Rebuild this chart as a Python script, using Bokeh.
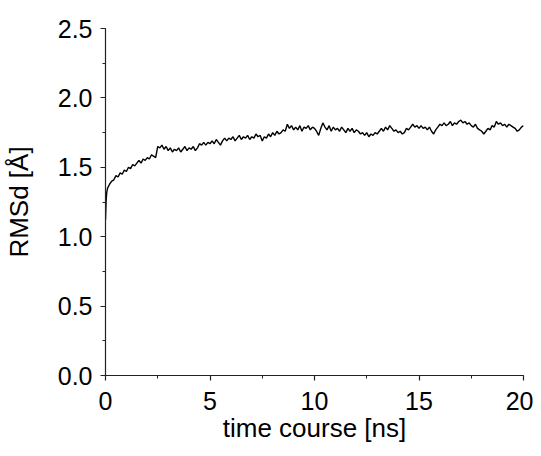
from bokeh.plotting import figure
from bokeh.models import Range1d, SingleIntervalTicker, NumeralTickFormatter
from bokeh.embed import file_html
from bokeh.resources import INLINE

# ---- data ----
time_early = [0.0, 0.03, 0.06]
rmsd_early = [1.12, 1.26, 1.32]

time_ns = [round(0.1 * i, 1) for i in range(1, 201)]
rmsd = [
    1.35, 1.38, 1.40, 1.41, 1.44, 1.43, 1.46, 1.45, 1.48, 1.47,
    1.50, 1.49, 1.52, 1.51, 1.53, 1.55, 1.53, 1.56, 1.55, 1.57,
    1.56, 1.59, 1.58, 1.57, 1.65, 1.64, 1.66, 1.63, 1.65, 1.62,
    1.64, 1.61, 1.63, 1.62, 1.64, 1.61, 1.63, 1.65, 1.62, 1.64,
    1.63, 1.65, 1.62, 1.64, 1.67, 1.66, 1.68, 1.66, 1.68, 1.67,
    1.69, 1.67, 1.70, 1.68, 1.66, 1.69, 1.71, 1.69, 1.71, 1.70,
    1.72, 1.69, 1.71, 1.73, 1.70, 1.72, 1.71, 1.73, 1.70, 1.72,
    1.71, 1.74, 1.72, 1.73, 1.69, 1.72, 1.71, 1.74, 1.72, 1.75,
    1.73, 1.76, 1.74, 1.75, 1.77, 1.76, 1.81, 1.78, 1.80, 1.77,
    1.79, 1.77, 1.80, 1.76, 1.79, 1.78, 1.80, 1.77, 1.79, 1.78,
    1.76, 1.73, 1.78, 1.82, 1.79, 1.77, 1.80, 1.76, 1.79, 1.77,
    1.78, 1.76, 1.79, 1.77, 1.75, 1.78, 1.76, 1.78, 1.75, 1.77,
    1.76, 1.74, 1.75, 1.73, 1.75, 1.72, 1.74, 1.73, 1.75, 1.74,
    1.76, 1.78, 1.76, 1.79, 1.77, 1.80, 1.78, 1.76, 1.77, 1.75,
    1.76, 1.74, 1.75, 1.78, 1.77, 1.79, 1.81, 1.79, 1.80, 1.78,
    1.80, 1.78, 1.79, 1.77, 1.79, 1.76, 1.74, 1.77, 1.79, 1.81,
    1.80, 1.82, 1.80, 1.81, 1.83, 1.80, 1.82, 1.81, 1.83, 1.84,
    1.82, 1.83, 1.81, 1.82, 1.80, 1.79, 1.81, 1.78, 1.77, 1.76,
    1.74, 1.76, 1.78, 1.77, 1.80, 1.79, 1.83, 1.81, 1.82, 1.80,
    1.81, 1.79, 1.81, 1.80, 1.79, 1.78, 1.76, 1.77, 1.79, 1.80,
]

x_vals = time_early + time_ns
y_vals = rmsd_early + rmsd

x_label = "time course [ns]"
y_label = "RMSd [Å]"

FONT = "Liberation Sans"

p = figure(
    frame_width=418, frame_height=347,
    min_border_left=97, min_border_right=10,
    min_border_top=28, min_border_bottom=73,
    x_range=Range1d(0, 20), y_range=Range1d(0, 2.5),
    output_backend="svg", toolbar_location=None,
)
p.outline_line_color = None
p.grid.visible = False
p.background_fill_color = "white"
p.border_fill_color = "white"

p.line(x_vals, y_vals, line_color="black", line_width=1.4)

p.xaxis.ticker = SingleIntervalTicker(interval=5, num_minor_ticks=2)
p.yaxis.ticker = SingleIntervalTicker(interval=0.5, num_minor_ticks=2)
p.yaxis.formatter = NumeralTickFormatter(format="0.0")

for ax in (p.xaxis[0], p.yaxis[0]):
    ax.axis_line_color = "#222222"
    ax.axis_line_width = 1.2
    ax.major_tick_line_color = "#222222"
    ax.minor_tick_line_color = "#222222"
    ax.major_tick_line_width = 1.2
    ax.minor_tick_line_width = 1.0
    ax.major_tick_in = 0
    ax.major_tick_out = 5
    ax.minor_tick_in = 0
    ax.minor_tick_out = 3
    ax.major_label_text_font = FONT
    ax.major_label_text_font_size = "25px"
    ax.major_label_text_color = "black"
    ax.axis_label_text_font = FONT
    ax.axis_label_text_font_size = "26px"
    ax.axis_label_text_font_style = "normal"
    ax.axis_label_text_color = "black"

p.xaxis.axis_label = x_label
p.yaxis.axis_label = y_label
p.xaxis.major_label_standoff = 11
p.yaxis.major_label_standoff = 8
p.xaxis.axis_label_standoff = 0
p.yaxis.axis_label_standoff = 21

open("out.html", "w").write(file_html(p, INLINE))
